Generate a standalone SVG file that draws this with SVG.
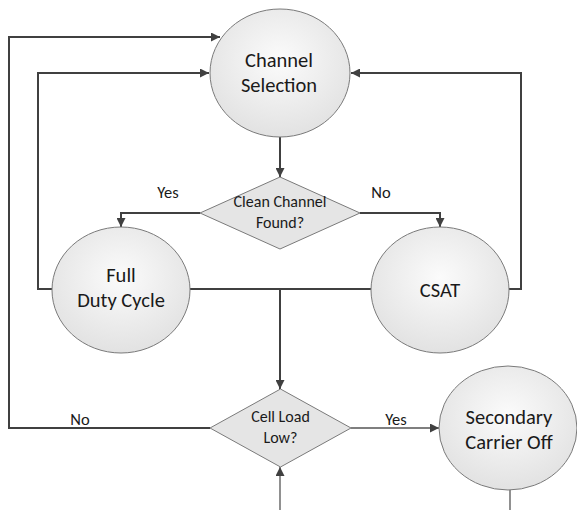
<svg xmlns="http://www.w3.org/2000/svg" width="577" height="510" viewBox="0 0 577 510">
<defs>
<radialGradient id="cg" cx="50%" cy="40%" r="60%">
<stop offset="0" stop-color="#fbfbfb"/>
<stop offset="1" stop-color="#e2e2e2"/>
</radialGradient>
<marker id="ah" viewBox="0 0 10 10" refX="10" refY="5" markerWidth="9" markerHeight="9" markerUnits="userSpaceOnUse" orient="auto">
<path d="M0,0 L10,5 L0,10 z" fill="#404040"/>
</marker>
</defs>
<style>
.node{fill:url(#cg);stroke:#7a7a7a;stroke-width:1}
.dia{fill:#e5e5e5;stroke:#7a7a7a;stroke-width:1}
.c{fill:none;stroke:#404040;stroke-width:2}
.t{fill:none;stroke:#555;stroke-width:1.3}
.lbl{font-family:Carlito,Lato,"Liberation Sans",sans-serif;fill:#1a1a1a;text-anchor:middle}
.big{font-size:20.5px}
.sm{font-size:16px}
.yn{font-size:16.5px}
</style>
<rect width="577" height="510" fill="#ffffff"/>
<g id="connectors">
<path class="c" d="M210,428 H9 V37 H220" marker-end="url(#ah)"/>
<path class="c" d="M52,289 H38 V73 H209" marker-end="url(#ah)"/>
<path class="c" d="M509,289 H521 V73 H351" marker-end="url(#ah)"/>
<path class="c" d="M280,137 V177" marker-end="url(#ah)"/>
<path class="c" d="M200,213 H121 V227" marker-end="url(#ah)"/>
<path class="c" d="M360,213 H440 V227" marker-end="url(#ah)"/>
<path class="c" d="M190,289 H371"/>
<path class="c" d="M280,289 V389" marker-end="url(#ah)"/>
<path class="t" d="M351,428 H439" marker-end="url(#ah)"/>
<path class="t" d="M280,510 V467" marker-end="url(#ah)"/>
<path class="t" d="M510,490 V510"/>
<text class="lbl yn" x="168" y="198">Yes</text>
<text class="lbl yn" x="381" y="198">No</text>
<text class="lbl yn" x="80" y="425">No</text>
<text class="lbl yn" x="396" y="425">Yes</text>
</g>
<g id="channel-selection">
<ellipse class="node" cx="280" cy="73" rx="70" ry="64"/>
<text class="lbl big" x="279" y="67">Channel</text>
<text class="lbl big" x="279" y="92">Selection</text>
</g>
<g id="clean-channel">
<polygon class="dia" points="280,177 360,213 280,249 200,213"/>
<text class="lbl sm" x="280" y="207">Clean Channel</text>
<text class="lbl sm" x="280" y="228">Found?</text>
</g>
<g id="full-duty-cycle">
<ellipse class="node" cx="121" cy="290" rx="69" ry="63"/>
<text class="lbl big" x="121" y="282">Full</text>
<text class="lbl big" x="121" y="307">Duty Cycle</text>
</g>
<g id="csat">
<ellipse class="node" cx="440" cy="290" rx="69" ry="63"/>
<text class="lbl big" x="440" y="297">CSAT</text>
</g>
<g id="cell-load">
<polygon class="dia" points="280.5,389 351,428 280.5,467 210,428"/>
<text class="lbl sm" x="280.5" y="422">Cell Load</text>
<text class="lbl sm" x="280.5" y="443">Low?</text>
</g>
<g id="secondary-carrier-off">
<ellipse class="node" cx="508" cy="428" rx="69" ry="62"/>
<text class="lbl big" x="509" y="424">Secondary</text>
<text class="lbl big" x="509" y="449">Carrier Off</text>
</g>
</svg>
